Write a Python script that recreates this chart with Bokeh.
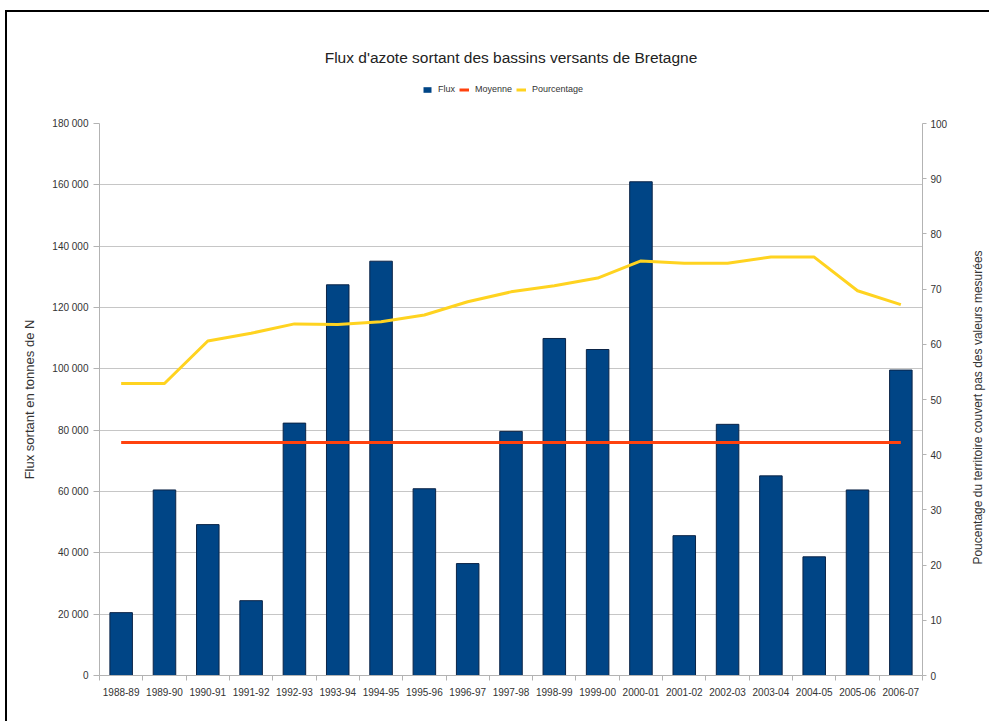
import math
from bokeh.plotting import figure
from bokeh.layouts import column, row
from bokeh.models import (Range1d, LinearAxis, FixedTicker, Legend, Label,
                          LegendItem, ColumnDataSource, CDSView, IndexFilter)
from bokeh.embed import file_html
from bokeh.resources import INLINE

# ---- data -------------------------------------------------------------
categories = ["1988-89", "1989-90", "1990-91", "1991-92", "1992-93", "1993-94",
              "1994-95", "1995-96", "1996-97", "1997-98", "1998-99", "1999-00",
              "2000-01", "2001-02", "2002-03", "2003-04", "2004-05", "2005-06",
              "2006-07"]
flux = [20500, 60500, 49200, 24400, 82300, 127400, 135100, 60900, 36500,
        79600, 109900, 106300, 161000, 45600, 81900, 65100, 38700, 60500, 99600]
pourcentage = [52.9, 52.9, 60.6, 62.0, 63.7, 63.6, 64.1, 65.3, 67.7, 69.5,
               70.6, 72.0, 75.1, 74.7, 74.7, 75.8, 75.8, 69.7, 67.2]
moyenne = 76000

flux_ticks = [0, 20000, 40000, 60000, 80000, 100000, 120000, 140000, 160000, 180000]
flux_tick_labels = ["0", "20 000", "40 000", "60 000", "80 000", "100 000",
                    "120 000", "140 000", "160 000", "180 000"]
pct_ticks = [0, 10, 20, 30, 40, 50, 60, 70, 80, 90, 100]

title_text = "Flux d'azote sortant des bassins versants de Bretagne"
left_label_text = "Flux sortant en tonnes de N"
right_label_text = "Poucentage du territoire couvert pas des valeurs mesurées"
legend_labels = ["Flux", "Moyenne", "Pourcentage"]

# ---- style ------------------------------------------------------------
FONT = "Liberation Sans"
TXT = "#333333"
AX = "#b3b3b3"
BLUE = "#004586"
BAR_EDGE = "#0b2447"
RED = "#ff420e"
YELLOW = "#ffd320"
W_MAIN = 945
W_SIDE = 37
H_HEAD = 101
H_MAIN = 608

n = len(categories)
xs = list(range(n))

src = ColumnDataSource(dict(x=xs, flux=flux, pct=pourcentage,
                            moy=[moyenne] * n, cat=categories))

# ---- header figure: title + legend ------------------------------------
# The legend needs glyph renderers in this figure. They use the real data
# through a one-row view and have zero extent, so only the swatches show.
head = figure(width=W_MAIN, height=H_HEAD, x_range=Range1d(-0.5, n - 0.5),
              y_range=Range1d(0, 180000), x_axis_type=None,
              y_axis_type=None, output_backend="svg", toolbar_location=None,
              min_border=0)
head.outline_line_color = None
head.grid.visible = False
one_row = CDSView(filter=IndexFilter(indices=[0]))
hb = head.vbar(x="x", top="flux", bottom="flux", width=0, source=src,
               view=one_row, fill_color=BLUE, line_color=None)
hm = head.line(x="x", y="moy", source=src, view=one_row,
               line_color=RED, line_width=3)
hp = head.line(x="x", y="pct", source=src, view=one_row,
               line_color=YELLOW, line_width=3)

head.add_layout(Label(x=411.5, y=56, x_units="screen", y_units="screen",
                      text=title_text, text_align="center", text_baseline="middle",
                      text_font=FONT, text_font_size="15.5px", text_color="#222222"))

legend = Legend(items=[LegendItem(label=legend_labels[0], renderers=[hb]),
                       LegendItem(label=legend_labels[1], renderers=[hm]),
                       LegendItem(label=legend_labels[2], renderers=[hp])],
                orientation="horizontal", location=(323, 19),
                padding=0, margin=0, spacing=4, glyph_width=10, glyph_height=7,
                label_standoff=6, label_height=10, label_width=10,
                background_fill_alpha=0, border_line_alpha=0,
                label_text_font=FONT, label_text_font_size="9px",
                label_text_color=TXT)
head.add_layout(legend)

# ---- main chart -------------------------------------------------------
p = figure(width=W_MAIN, height=H_MAIN,
           x_range=Range1d(-0.5, n - 0.5), y_range=Range1d(0, 180000),
           output_backend="svg", toolbar_location=None,
           min_border_left=92, min_border_right=30,
           min_border_top=10, min_border_bottom=46)
p.extra_y_ranges = {"pct": Range1d(0, 100)}
p.outline_line_color = None
p.background_fill_color = "white"
p.border_fill_color = "white"

bars = p.vbar(x="x", top="flux", width=0.52, source=src,
              fill_color=BLUE, line_color=BAR_EDGE, line_width=1)
mean_line = p.line(x="x", y="moy", source=src, line_color=RED, line_width=3)
pct_line = p.line(x="x", y="pct", source=src, y_range_name="pct",
                  line_color=YELLOW, line_width=3, line_join="round")

# x axis
xa = p.xaxis[0]
xa.ticker = FixedTicker(ticks=xs, minor_ticks=[i - 0.5 for i in range(n + 1)])
xa.major_label_overrides = {i: c for i, c in zip(xs, categories)}
xa.major_tick_out = 0
xa.major_tick_in = 0
xa.minor_tick_out = 5
xa.minor_tick_in = 0
xa.major_label_standoff = 7

# left axis
ya = p.yaxis[0]
ya.ticker = FixedTicker(ticks=flux_ticks)
ya.major_label_overrides = {t: l for t, l in zip(flux_ticks, flux_tick_labels)}
ya.major_tick_out = 6
ya.major_tick_in = 0
ya.major_label_standoff = 5
ya.axis_label = left_label_text
ya.axis_label_standoff = 12
ya.axis_label_text_font_size = "13px"

# right axis (its title is drawn in the side figure)
ra = LinearAxis(y_range_name="pct", ticker=FixedTicker(ticks=pct_ticks))
ra.major_tick_out = 4
ra.major_tick_in = 0
ra.major_label_standoff = 4
p.add_layout(ra, "right")

for ax in (xa, ya, ra):
    ax.axis_line_color = AX
    ax.major_tick_line_color = AX
    ax.minor_tick_line_color = AX
    ax.major_label_text_font = FONT
    ax.major_label_text_font_size = "10px"
    ax.major_label_text_color = TXT
    ax.axis_label_text_font = FONT
    ax.axis_label_text_font_style = "normal"
    ax.axis_label_text_color = TXT

p.xgrid.visible = False
p.ygrid.ticker = FixedTicker(ticks=flux_ticks)
p.ygrid.grid_line_color = "#c6c6c6"
p.ygrid.grid_line_width = 1

# ---- side figure: right axis title --------------------------------------
side = figure(width=W_SIDE, height=H_HEAD + H_MAIN, x_range=Range1d(0, 1),
              y_range=Range1d(0, 1), x_axis_type=None, y_axis_type=None,
              output_backend="svg", toolbar_location=None,
              min_border_left=0, min_border_right=0,
              min_border_top=H_HEAD + 10, min_border_bottom=46)
side.outline_line_color = None
side.grid.visible = False
side.add_layout(Label(x=25, y=268, x_units="screen", y_units="screen",
                      text=right_label_text, angle=math.pi / 2,
                      text_align="center", text_baseline="middle",
                      text_font=FONT, text_font_size="12px", text_color=TXT))

layout = row(column(head, p, spacing=0), side, spacing=0)
layout.styles = {"margin-left": "5px", "margin-top": "10px",
                 "border-left": "2px solid #000000", "border-top": "2px solid #000000"}

open("out.html", "w").write(file_html(layout, INLINE))
